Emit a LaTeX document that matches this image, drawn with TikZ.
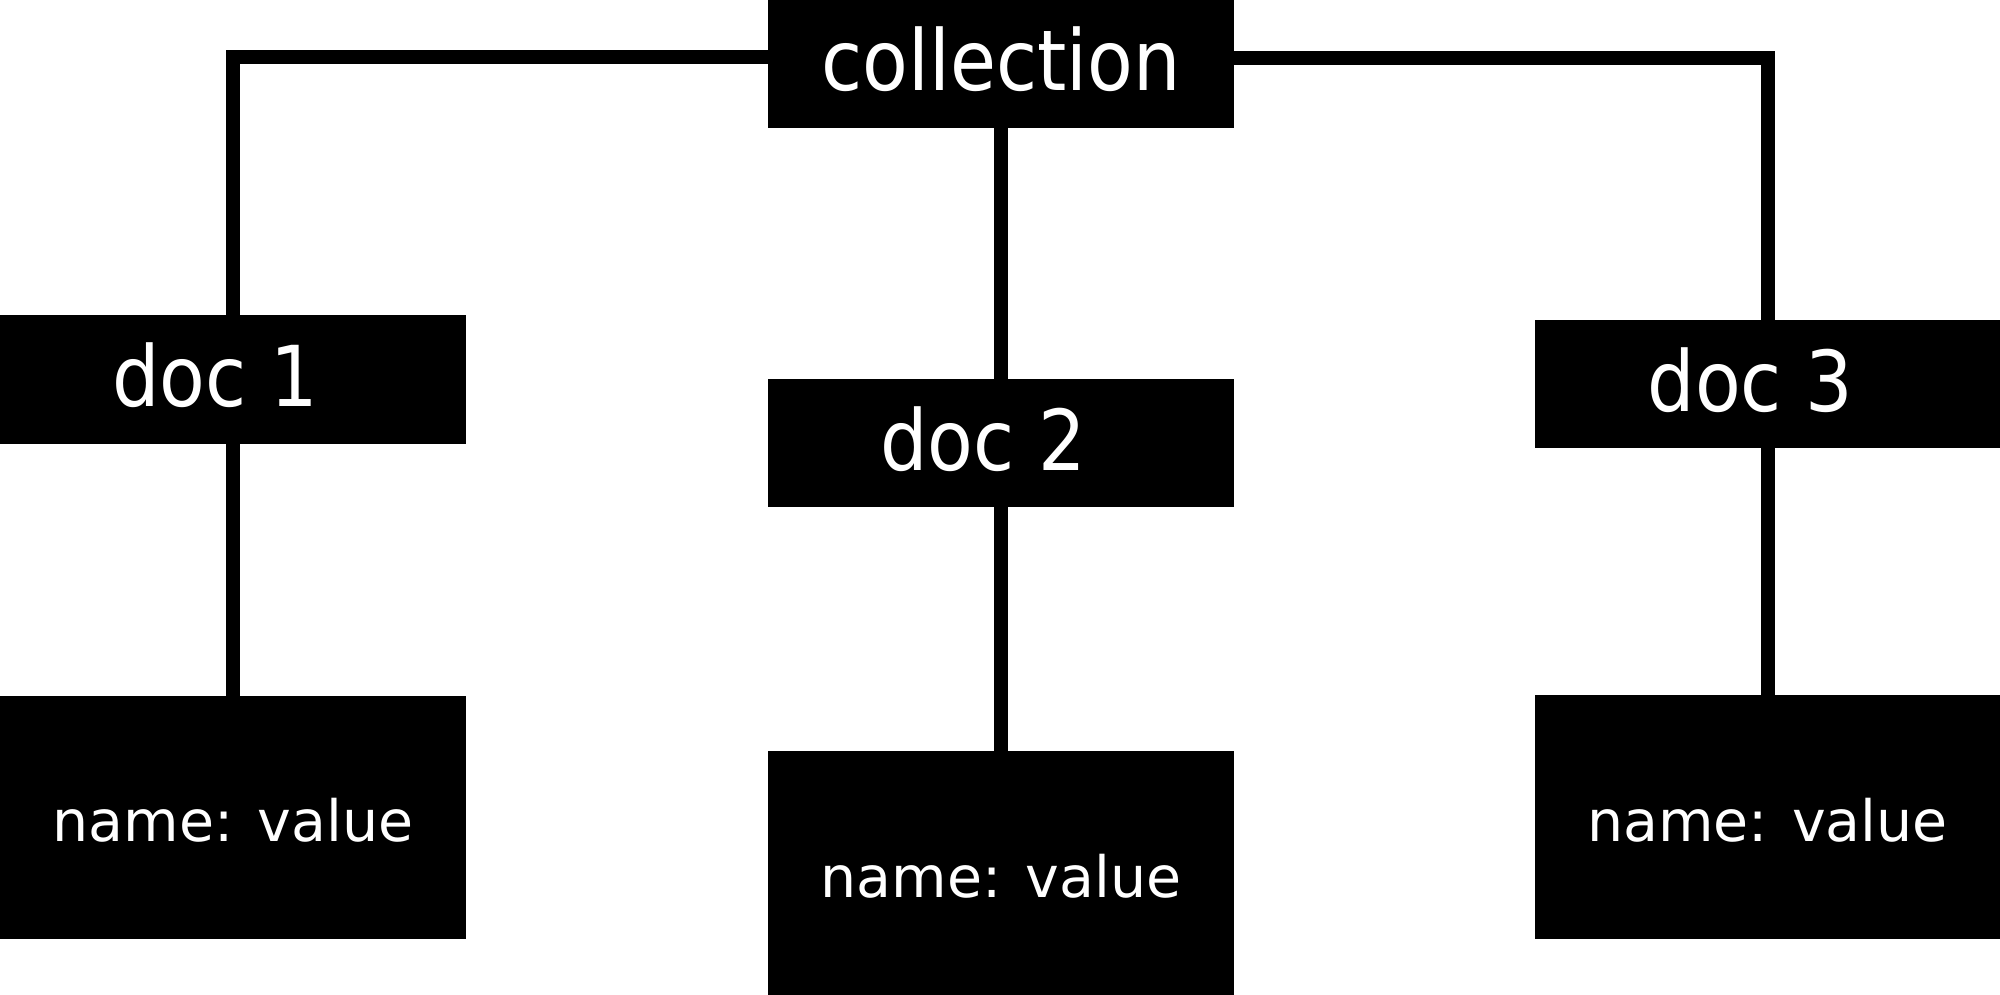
\documentclass[tikz,border=0pt]{standalone}
\usepackage{fontspec}
\newfontfamily\titlefont[FakeStretch=0.89]{DejaVu Sans}
\newfontfamily\bodyfont{DejaVu Sans}
\begin{document}
\begin{tikzpicture}[x=1pt,y=-1pt,
  box/.style={rectangle,fill=black,text=white,inner sep=0pt,minimum width=466pt},
  title/.style={box,minimum height=128pt,font=\titlefont\fontsize{84}{90}\selectfont,text height=64pt,text depth=10pt},
  entry/.style={box,minimum height=244pt,font=\bodyfont\fontsize{57}{64}\selectfont,text height=48pt,text depth=0pt},
  link/.style={line width=14pt}]
\useasboundingbox (0,0) rectangle (2000,995);
\node[title] (col) at (1001,64) {collection};
\node[title,minimum height=129pt] (d1) at (233,379.5) {doc 1\hspace*{36pt}};
\node[title] (d2) at (1001,443) {doc 2\hspace*{36pt}};
\node[title,minimum width=465pt] (d3) at (1767.5,384) {doc 3\hspace*{34pt}};
\node[entry,minimum height=243pt] (n1) at (233,817.5) {name: value};
\node[entry] (n2) at (1001,873) {name: value};
\node[entry,minimum width=465pt] (n3) at (1767.5,817) {name: value};
\draw[link] ([yshift=7pt]col.west) -| (d1.north);
\draw[link] ([yshift=5.5pt]col.east) -| (d3.north);
\draw[link] (col.south) -- (d2.north);
\draw[link] (d1.south) -- (n1.north);
\draw[link] (d2.south) -- (n2.north);
\draw[link] (d3.south) -- (n3.north);
\end{tikzpicture}
\end{document}
